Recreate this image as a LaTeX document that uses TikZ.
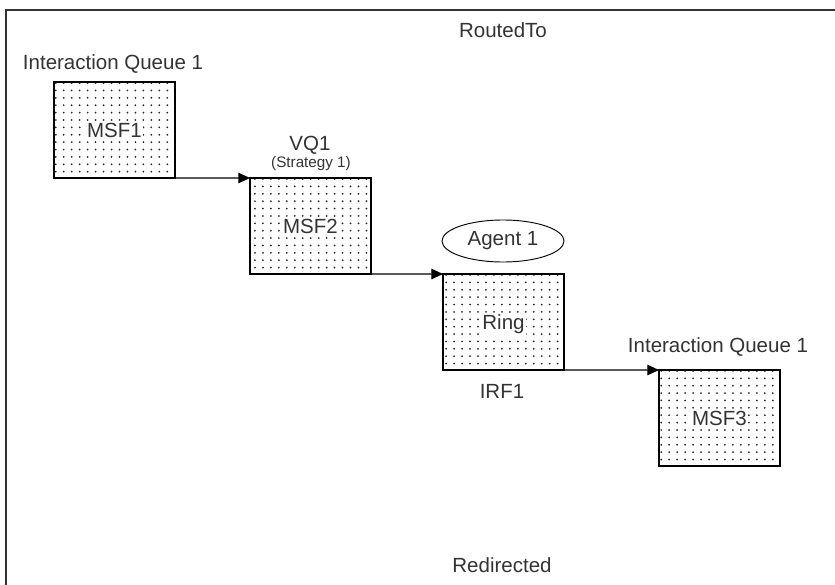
\documentclass[tikz,border=0pt]{standalone}
\usepackage{fontspec}
\setmainfont{Liberation Sans}
\usepackage{tikz}
\usetikzlibrary{arrows.meta,patterns,shapes.geometric}

\pgfdeclarepatternformonly{msfdots}{\pgfqpoint{-1pt}{-1pt}}{\pgfqpoint{1pt}{1pt}}{\pgfqpoint{6.8pt}{6.3pt}}{%
	\pgfpathcircle{\pgfpointorigin}{0.85pt}\pgfusepath{fill}}

\begin{document}
\begin{tikzpicture}[x=0.03cm, y=-0.03cm,
		msfbox/.style={draw=black, line width=1.3pt, pattern=msfdots, pattern color=black!85, minimum width=3.63cm, minimum height=2.88cm, inner sep=0pt, outer sep=0pt, anchor=north west},
		boxtext/.style={fill=white, inner sep=1pt, anchor=base, font=\fontsize{17.5}{20}\selectfont, text=black!80},
		lbl/.style={anchor=base, inner sep=0pt, font=\fontsize{17.5}{20}\selectfont, text=black!80},
		smalllbl/.style={anchor=base, inner sep=0pt, font=\fontsize{13}{16}\selectfont, text=black!80},
		flow/.style={line width=1pt, -{Triangle[length=10pt,width=9pt]}}]
		\useasboundingbox (0,0) rectangle (835,585);
		\draw[line width=1.5pt, black!80] (835,10) -- (6,10) -- (6,585);
		 \foreach \x/\y/\alph/\name in {
			54/82/msf1/MSF1,
		  	250/178/msf2/MSF2,
		  	443/274/ring/Ring,
		  	659/370/msf3/MSF3
		 }{
		 	\node[msfbox] (\alph) at (\x,\y) {};
		 	\node[boxtext] (\alph-t) at ([yshift=-6.3pt]\alph.center) {\name};
		 }
		 \foreach \a/\b in {msf1/msf2, msf2/ring, ring/msf3}
		 {\draw[flow] (\a.south east) -- (\b.north west);}
		 \node[lbl] (routed) at (503,37) {RoutedTo};
		 \node[lbl] (redir) at (502,572) {Redirected};
		 \node[lbl] (iq1) at (113,69) {Interaction Queue 1};
		 \node[lbl] (vq1) at (310,150) {VQ1};
		 \node[smalllbl] (strat) at (311,167) {(Strategy 1)};
		 \node[ellipse, draw=black, line width=0.8pt, minimum width=3.66cm, minimum height=1.26cm, font=\fontsize{17.5}{20}\selectfont, text=black!80] (agent) at (503,241) {Agent 1};
		 \node[lbl] (irf1) at (502,398) {IRF1};
		 \node[lbl] (iq1b) at (718,352) {Interaction Queue 1};
\end{tikzpicture}
\end{document}
